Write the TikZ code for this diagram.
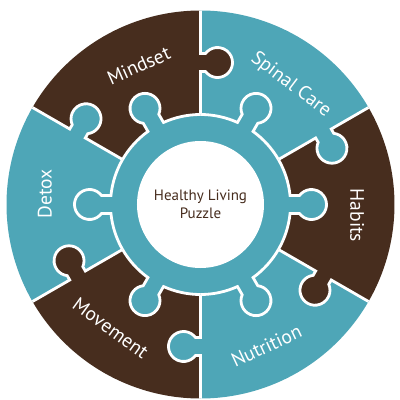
\documentclass[tikz,border=0pt]{standalone}
\usepackage{fontspec}
\setmainfont{PT Sans}
\definecolor{puzbrown}{RGB}{71,45,30}
\definecolor{puzteal}{RGB}{78,166,183}

\begin{document}
\begin{tikzpicture}[x=1pt,y=1pt,
  gap/.style={draw=white, line width=2.8pt},
  lab/.style={text=white, font=\fontsize{19.5}{22}\selectfont}]
\useasboundingbox (-200.5,-195.5) rectangle (199.5,204.5);
\foreach \a/\c in {60/puzteal,0/puzbrown,-60/puzteal,-120/puzbrown,180/puzteal,120/puzbrown}
  {\fill[\c] (0,0) -- (\a-30:194) arc[start angle=\a-30, end angle=\a+30, radius=194] -- cycle;}
\foreach \b/\c in {90/puzbrown,30/puzteal,-30/puzbrown,-90/puzteal,-150/puzbrown,150/puzteal} {
  \begin{scope}[rotate=\b]
    \fill[\c] (142,-17) circle (15);
    \fill[\c] (133,1) rectangle (151,-10);
    \draw[gap] (90,0) -- (133,0) -- (133,-5) arc[start angle=126.87, end angle=413.13, radius=15] -- (151,0) -- (194,0);
  \end{scope}
}
\fill[puzteal] (0,0) circle (90);
\foreach \a in {0,60,...,300} {
  \begin{scope}[rotate=\a]
    \fill[puzteal] (111,0) circle (15);
    \fill[puzteal] (88,-9) rectangle (100,9);
    \draw[gap] (-30:90) arc[start angle=-30, end angle=-5.74, radius=90] -- (99,-9)
      arc[start angle=216.87, end angle=503.13, radius=15] -- (89.55,9)
      arc[start angle=5.74, end angle=30, radius=90];
  \end{scope}
}
\fill[white] (0,0) circle (63.5);
\node[text=puzbrown, align=center, font=\fontsize{15}{18}\selectfont] (title) at (0,0) {Healthy Living\\Puzzle};
\node[lab, rotate=24] (mindset) at (114:152) {Mindset};
\node[lab, rotate=-37] (spinal) at (53:150) {Spinal Care};
\node[lab, rotate=-90] (habits) at (-4:157) {Habits};
\node[lab, rotate=25] (nutrition) at (-65:156) {Nutrition};
\node[lab, rotate=-36] (movement) at (234:153) {Movement};
\node[lab, rotate=90] (detox) at (176:156) {Detox};
\end{tikzpicture}
\end{document}
